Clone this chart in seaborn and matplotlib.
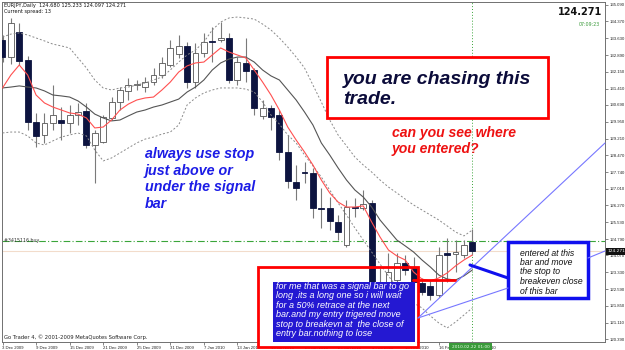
import numpy as np
import pandas as pd
import matplotlib
matplotlib.use("Agg")
import matplotlib.pyplot as plt
import seaborn as sns
from matplotlib.patches import Rectangle

sns.set_theme(style="white")
plt.rcParams['font.family'] = ['Liberation Sans', 'DejaVu Sans']

# ---------------- data (EURJPY daily) ----------------
dates = ["3 Dec 2009", "4 Dec 2009", "7 Dec 2009", "8 Dec 2009", "9 Dec 2009", "10 Dec 2009",
         "11 Dec 2009", "14 Dec 2009", "15 Dec 2009", "16 Dec 2009", "17 Dec 2009", "18 Dec 2009",
         "21 Dec 2009", "22 Dec 2009", "23 Dec 2009", "24 Dec 2009", "25 Dec 2009", "28 Dec 2009",
         "29 Dec 2009", "30 Dec 2009", "31 Dec 2009", "4 Jan 2010", "5 Jan 2010", "6 Jan 2010",
         "7 Jan 2010", "8 Jan 2010", "11 Jan 2010", "12 Jan 2010", "13 Jan 2010", "14 Jan 2010",
         "15 Jan 2010", "18 Jan 2010", "19 Jan 2010", "20 Jan 2010", "21 Jan 2010", "22 Jan 2010",
         "25 Jan 2010", "26 Jan 2010", "27 Jan 2010", "28 Jan 2010", "29 Jan 2010", "1 Feb 2010",
         "2 Feb 2010", "3 Feb 2010", "4 Feb 2010", "5 Feb 2010", "8 Feb 2010", "9 Feb 2010",
         "10 Feb 2010", "11 Feb 2010", "12 Feb 2010", "15 Feb 2010", "16 Feb 2010", "17 Feb 2010",
         "18 Feb 2010", "19 Feb 2010", "22 Feb 2010"]

open_ = [133.55, 132.80, 133.90, 132.67, 129.94, 129.37, 129.90, 130.03, 129.90, 130.25,
         130.42, 128.93, 129.06, 130.12, 130.82, 131.31, 131.57, 131.48, 131.70, 132.01,
         132.45, 132.93, 133.29, 131.70, 132.98, 133.51, 133.55, 133.64, 131.79, 132.54,
         132.23, 130.21, 130.56, 130.25, 128.62, 127.30, 127.74, 127.70, 126.16, 126.16,
         125.54, 124.53, 126.20, 126.16, 126.38, 122.11, 122.55, 122.99, 123.74, 123.56,
         122.86, 122.73, 122.33, 124.18, 124.13, 124.09, 124.680]
high = [133.77, 134.52, 134.30, 132.85, 130.34, 130.34, 131.57, 130.60, 130.69, 130.78,
        130.78, 129.59, 130.25, 131.04, 131.48, 131.88, 131.79, 131.92, 132.32, 132.80,
        133.55, 133.77, 133.46, 133.42, 133.86, 134.12, 134.34, 133.86, 132.80, 133.64,
        132.32, 130.91, 130.69, 130.47, 129.37, 128.05, 128.18, 127.92, 127.04, 126.64,
        125.85, 126.51, 126.60, 126.95, 126.51, 123.52, 124.18, 124.18, 124.09, 124.00,
        123.08, 122.99, 124.44, 124.84, 124.75, 124.75, 125.233]
low = [132.58, 132.49, 132.45, 129.59, 128.84, 129.02, 129.59, 129.15, 129.46, 129.81,
       128.80, 127.26, 129.02, 130.03, 130.47, 130.91, 131.35, 131.26, 131.57, 131.88,
       132.36, 132.76, 131.44, 131.44, 132.80, 132.58, 133.46, 131.66, 131.57, 131.70,
       130.25, 130.07, 129.59, 128.27, 127.04, 126.51, 127.26, 125.72, 125.28, 125.19,
       124.75, 124.44, 125.76, 126.07, 121.32, 121.67, 122.33, 122.86, 123.21, 122.77,
       122.33, 122.11, 122.24, 122.90, 123.34, 123.96, 124.097]
close = [132.80, 134.30, 132.63, 129.94, 129.33, 129.90, 130.25, 129.90, 130.25, 130.38,
         128.93, 129.46, 130.16, 130.82, 131.35, 131.57, 131.61, 131.70, 132.01, 132.54,
         133.20, 133.29, 131.70, 132.98, 133.46, 133.46, 133.64, 131.79, 132.58, 132.19,
         130.56, 130.56, 130.16, 128.62, 127.35, 127.04, 127.70, 126.16, 126.11, 125.58,
         125.10, 126.20, 126.16, 126.33, 122.11, 122.55, 123.34, 123.74, 123.43, 122.90,
         122.46, 122.33, 124.09, 124.09, 124.22, 124.53, 124.271]

fast_ma = [131.44, 132.01, 132.45, 132.01, 131.13, 130.78, 130.60, 130.47, 130.34, 130.29,
           130.12, 129.68, 129.72, 130.03, 130.47, 130.73, 130.91, 131.00, 131.04, 131.35,
           131.70, 132.14, 132.41, 132.54, 132.58, 132.89, 133.20, 133.02, 132.89, 132.76,
           132.23, 131.70, 131.13, 130.47, 129.72, 129.15, 128.62, 128.05, 127.39, 126.82,
           126.42, 126.20, 126.20, 126.25, 125.54, 124.88, 124.31, 124.05, 123.87, 123.34,
           123.03, 122.95, 123.08, 123.30, 123.61, 123.87, 124.09]
slow_ma = [131.44, 131.48, 131.53, 131.48, 131.44, 131.31, 131.13, 131.09, 131.04, 130.87,
           130.60, 130.29, 130.12, 129.99, 130.03, 130.21, 130.38, 130.47, 130.60, 130.69,
           130.82, 130.95, 131.26, 131.48, 131.79, 132.23, 132.54, 132.71, 132.80, 132.80,
           132.58, 132.23, 131.97, 131.79, 131.35, 130.91, 130.38, 129.81, 129.02, 128.49,
           127.92, 127.39, 126.95, 126.64, 126.20, 125.63, 125.19, 124.75, 124.49, 124.22,
           123.87, 123.56, 123.21, 123.03, 122.99, 123.17, 123.43]
upper_band = [133.68, 133.81, 133.86, 133.77, 133.64, 133.51, 133.37, 133.29, 133.20, 132.76,
              132.32, 131.79, 131.44, 131.35, 131.44, 131.48, 131.57, 131.66, 131.79, 131.92,
              132.23, 132.58, 132.89, 133.11, 133.46, 133.99, 134.34, 134.52, 134.56, 134.52,
              134.47, 134.25, 133.99, 133.64, 133.24, 132.80, 132.32, 131.57, 130.82, 130.03,
              129.37, 128.89, 128.40, 128.05, 127.74, 127.39, 127.08, 126.82, 126.55, 126.29,
              126.07, 125.85, 125.63, 125.37, 125.10, 124.93, 125.19]
lower_band = [129.46, 129.50, 129.50, 129.33, 129.02, 128.93, 129.11, 129.28, 129.37, 129.46,
              129.33, 128.71, 128.23, 128.36, 128.58, 128.80, 129.02, 129.19, 129.28, 129.41,
              129.50, 129.81, 130.69, 131.00, 131.22, 131.35, 131.44, 131.44, 131.44, 131.39,
              131.26, 130.82, 130.25, 129.85, 129.37, 129.02, 128.49, 128.01, 127.52, 126.95,
              126.38, 125.85, 125.28, 124.75, 124.22, 123.69, 123.17, 122.68, 122.24, 121.98,
              121.76, 121.41, 121.10, 120.88, 121.14, 121.45, 121.76]

price_ticks = [135.090, 134.370, 133.630, 132.890, 132.150, 131.410, 130.690, 129.950,
               129.210, 128.470, 127.740, 127.010, 126.270, 125.530, 124.790, 124.070,
               123.330, 122.590, 121.850, 121.110, 120.390]
buy_price = 124.70
last_price = 124.271

# ---------------- figure ----------------
W, H = 625, 350
fig = plt.figure(figsize=(W / 100, H / 100), dpi=100)
fig.patch.set_facecolor("white")
L, R, T, B = 2, 605, 2, 342
ax = fig.add_axes([L / W, 1 - B / H, (R - L) / W, (B - T) / H])
ax.set_facecolor("white")

n = len(dates)
idx = np.arange(n)
df = pd.DataFrame({"i": idx, "fast": fast_ma, "slow": slow_ma,
                   "up": upper_band, "lo": lower_band})

o = np.array(open_); c = np.array(close); h = np.array(high); l = np.array(low)
bull = c >= o
# wicks
ax.vlines(idx, l, h, color="#7a7a7a", lw=0.8, zorder=2)
body_lo = np.minimum(o, c)
body_h = np.maximum(np.abs(c - o), 0.025)
ax.bar(idx[bull], body_h[bull], bottom=body_lo[bull], width=0.7,
       color="white", edgecolor="#555555", linewidth=0.6, zorder=3)
ax.bar(idx[~bull], body_h[~bull], bottom=body_lo[~bull], width=0.7,
       color="#0d1440", edgecolor="#0d1440", linewidth=0.6, zorder=3)

# indicators
sns.lineplot(data=df, x="i", y="up", ax=ax, color="#8a8a8a", lw=0.7,
             linestyle=(0, (2, 2)), zorder=4)
sns.lineplot(data=df, x="i", y="lo", ax=ax, color="#8a8a8a", lw=0.7,
             linestyle=(0, (2, 2)), zorder=4)
sns.lineplot(data=df, x="i", y="slow", ax=ax, color="#555555", lw=0.8, zorder=4)
sns.lineplot(data=df, x="i", y="fast", ax=ax, color="#ff5050", lw=0.8, zorder=5)

# order / price lines
ax.axhline(buy_price, color="#3aa53a", lw=0.8, linestyle=(0, (6, 2, 1, 2)), zorder=1)
ax.axhline(last_price, color="#f2dccb", lw=0.8, zorder=1)
ax.axvline(n - 1, color="#3aa53a", lw=0.7, linestyle=(0, (1, 2)), zorder=1)

px_per_bar = 8.39
x0 = -(2.5 - L) / px_per_bar
ax.set_xlim(x0, x0 + (R - L) / px_per_bar)
ax.set_ylim(135.31 - 0.044 * B, 135.31 - 0.044 * T)

ax.yaxis.tick_right()
ax.set_yticks(price_ticks)
ax.set_yticklabels([f"{v:.3f}" for v in price_ticks], fontsize=3.1, color="#222222")
xt = list(range(0, n, 4))
ax.set_xticks(xt)
ax.set_xticklabels([dates[i] for i in xt], fontsize=3.1, color="#222222", ha="left")
ax.tick_params(axis="both", length=2, width=0.5, pad=1, color="#555555",
               bottom=True, right=True, left=False)
ax.set_xlabel(""); ax.set_ylabel("")
for s in ax.spines.values():
    s.set_color("#707070"); s.set_linewidth(0.7)
ax.text(0.003, 0.292, "#3415116 buy", transform=ax.transAxes, fontsize=3.4,
        color="#333333", va="bottom", family="DejaVu Sans")

# ---------------- overlay annotations (pixel space) ----------------
ov = fig.add_axes([0, 0, 1, 1], zorder=10)
ov.set_xlim(0, W); ov.set_ylim(H, 0); ov.axis("off")
ov.patch.set_alpha(0)

ov.text(4, 6, "EURJPY,Daily  124.680 125.233 124.097 124.271", fontsize=3.6,
        va="center", color="#111111", family="DejaVu Sans")
ov.text(4, 12, "Current spread: 13", fontsize=3.6, va="center", color="#111111",
        family="DejaVu Sans")
ov.text(602, 12, "124.271", fontsize=7, fontweight="bold", ha="right", va="center",
        color="#111111", family="DejaVu Sans")
ov.text(600, 25, "07:09:23", fontsize=3.4, ha="right", va="center", color="#3a9a3a",
        family="DejaVu Sans")
ov.text(4, 337, "Go Trader 4, \u00a9 2001-2009 MetaQuotes Software Corp.", fontsize=3.8,
        va="center", color="#222222", family="DejaVu Sans")

# current price marker on axis
ov.add_patch(Rectangle((606, 247.5), 19, 7, facecolor="#111111", edgecolor="none"))
ov.text(607, 251, "124.271", fontsize=3.1, color="white", va="center",
        family="DejaVu Sans")

# red box "you are chasing"
ov.add_patch(Rectangle((327, 57), 221, 61, facecolor="white", edgecolor="#ff0000", lw=2))
ov.text(343, 79, "you are chasing this", fontsize=14, fontweight="bold", style="italic",
        color="#0b0b3a", va="center")
ov.text(343, 100, "trade.", fontsize=14, fontweight="bold", style="italic",
        color="#0b0b3a", va="center")

ov.text(392, 133, "can you see where", fontsize=10.1, fontweight="bold", style="italic",
        color="#ee1111", va="center")
ov.text(392, 149, "you entered?", fontsize=10.1, fontweight="bold", style="italic",
        color="#ee1111", va="center")

for k, line in enumerate(["always use stop", "just above or", "under the signal", "bar"]):
    ov.text(145, 154 + 16.7 * k, line, fontsize=10.3, fontweight="bold", style="italic",
            color="#1c1ce6", va="center")

# thin blue trend lines
ov.plot([418, 605], [318, 143], color="#7777ff", lw=0.8)
ov.plot([418, 508], [318, 288], color="#7777ff", lw=0.8)
ov.plot([588, 605], [258, 251], color="#7777ff", lw=0.8)

# red signal box + red level line
ov.add_patch(Rectangle((259, 342), 158, 5, facecolor="white", edgecolor="none"))
ov.add_patch(Rectangle((258, 267), 160, 80, facecolor="none", edgecolor="#ff0000", lw=2))
ov.plot([413, 455], [280, 280], color="#ff0000", lw=2)

# blue text box
ov.add_patch(Rectangle((273, 282), 142, 60, facecolor="#2418d2", edgecolor="none"))
blue_lines = ["for me that was a signal bar to go", "long .its a long one so i will wait",
              "for a 50% retrace at the next", "bar.and my entry trigered move",
              "stop to breakevn at  the close of", "entry bar.nothing to lose"]
for k, line in enumerate(blue_lines):
    ov.text(276, 286.5 + 9.4 * k, line, fontsize=6.5, style="italic", color="white",
            va="center")

# entered box
ov.plot([470, 508], [265, 278], color="#1010ee", lw=2.2)
ov.add_patch(Rectangle((508, 242), 80, 56, facecolor="white", edgecolor="#1010ee", lw=2.5))
ent_lines = ["entered at this", "bar and move", "the stop to", "breakeven close", "of this bar"]
for k, line in enumerate(ent_lines):
    ov.text(520, 253 + 9.5 * k, line, fontsize=6.2, style="italic", color="#111111",
            va="center")

# date marker of the vertical line (drawn over the axis date labels, as in MT4)
ov.add_patch(Rectangle((449, 343), 43, 7, facecolor="#3a9a3a", edgecolor="none"))
ov.text(470.5, 346.5, "2010.02.22 01:00", fontsize=3.1, ha="center", va="center",
        color="#e8ffe8", family="DejaVu Sans")

fig.savefig("out.png", dpi=100, facecolor="white")
